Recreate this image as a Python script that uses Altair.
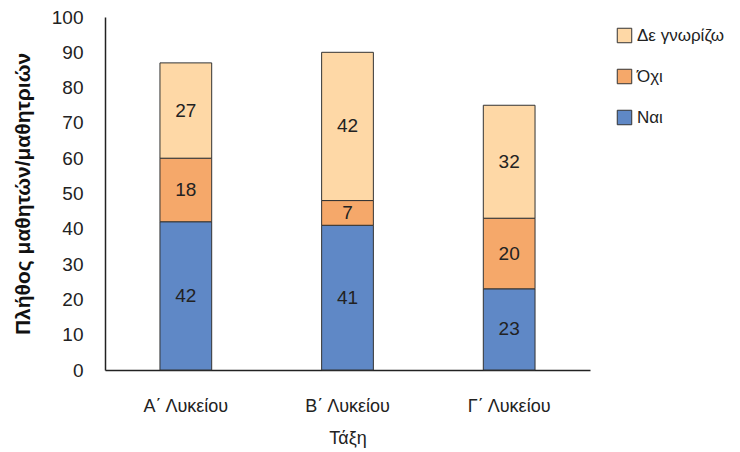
import altair as alt
import pandas as pd

classes = ["Α΄ Λυκείου", "Β΄ Λυκείου", "Γ΄ Λυκείου"]
answers = ["Ναι", "Όχι", "Δε γνωρίζω"]
nai = [42, 41, 23]
ochi = [18, 7, 20]
de_gnorizo = [27, 42, 32]

rows = []
for i, c in enumerate(classes):
    for j, (a, vals) in enumerate(zip(answers, [nai, ochi, de_gnorizo])):
        rows.append({"Τάξη": c, "Απάντηση": a, "ord": j, "Πλήθος": vals[i]})
df = pd.DataFrame(rows)

legend_order = ["Δε γνωρίζω", "Όχι", "Ναι"]
colors = ["#FED8A6", "#F5A86A", "#5F88C6"]

font = "Liberation Sans"

base = alt.Chart(df).transform_stack(
    stack="Πλήθος", groupby=["Τάξη"], as_=["y0", "y1"],
    sort=[alt.SortField("ord", order="ascending")]
).transform_calculate(mid="(datum.y0 + datum.y1) / 2")

x_axis = alt.Axis(title="Τάξη", labelAngle=0, ticks=False,
                  labelPadding=27, labelFontSize=18, titleFontSize=18,
                  titleFontWeight="normal", titlePadding=14,
                  labelColor="#222", titleColor="#222",
                  domainColor="#222", domainWidth=1.5)
x_scale = alt.Scale(paddingInner=0.68, paddingOuter=0.34)

y_axis = alt.Axis(title="Πλήθος μαθητών/μαθητριών", values=list(range(0, 101, 10)),
                  grid=False, ticks=False, labelPadding=22, labelFontSize=19,
                  labelOverlap=False,
                  titleFontSize=21, titleFontWeight="bold", titlePadding=18,
                  labelColor="#222", titleColor="#111",
                  domainColor="#222", domainWidth=1.5)
y_scale = alt.Scale(domain=[0, 100])

bars = base.mark_bar(stroke="#333", strokeWidth=1).encode(
    x=alt.X("Τάξη:N", sort=classes, scale=x_scale, axis=x_axis),
    y=alt.Y("y0:Q", scale=y_scale, axis=y_axis),
    y2="y1:Q",
    color=alt.Color("Απάντηση:N", scale=alt.Scale(domain=legend_order, range=colors),
                    legend=alt.Legend(title=None, orient="none", legendX=511, legendY=10,
                                      symbolType="square", symbolSize=210,
                                      symbolStrokeColor="#333", symbolStrokeWidth=1,
                                      labelFontSize=17, labelColor="#222",
                                      rowPadding=22, labelOffset=4)),
)

labels = base.mark_text(fontSize=19, color="#222", font=font).encode(
    x=alt.X("Τάξη:N", sort=classes, scale=x_scale, axis=x_axis),
    y=alt.Y("mid:Q", scale=y_scale, axis=y_axis),
    text=alt.Text("Πλήθος:Q"),
)

chart = (bars + labels).properties(
    width=485, height=353,
    autosize=alt.AutoSizeParams(type="none"),
    padding={"left": 97, "top": 9, "right": 134, "bottom": 80},
).configure(font=font).configure_view(stroke=None)

chart.save("out.html", embed_options={"renderer": "svg", "actions": False})
